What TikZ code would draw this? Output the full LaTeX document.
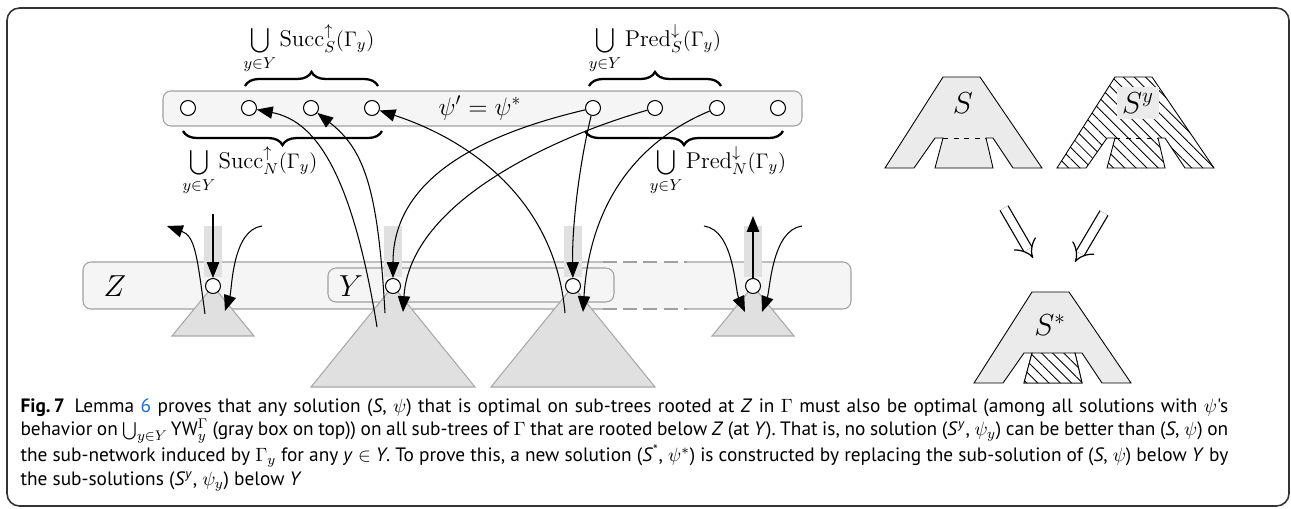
\documentclass[tikz,border=0pt]{standalone}
\usepackage{fontspec}
\newfontfamily\capfont{PT Sans}
\usepackage{xcolor}
\usepackage{tikz}
\usetikzlibrary{arrows.meta, positioning, decorations.pathreplacing, patterns.meta}
\definecolor{boxfill}{HTML}{F5F5F5}
\definecolor{boxline}{HTML}{A0A0A0}
\definecolor{treefill}{HTML}{E0E0E0}
\definecolor{treeline}{HTML}{A8A8A8}
\definecolor{shapefill}{HTML}{EBEBEB}
\definecolor{linkblue}{HTML}{1F6FD0}
\definecolor{frameline}{HTML}{333333}
\newcommand{\unionof}[1]{\displaystyle\bigcup_{y\in Y}#1}

\begin{document}
\begin{tikzpicture}[x=0.02cm, y=-0.02cm, line width=0.6pt,
      >={Triangle[length=9pt,width=7pt]},
      v/.style={circle, draw, fill=white, minimum size=0.3cm, inner sep=0pt},
      box/.style={draw=boxline, fill=boxfill, rounded corners=0.16cm},
      tree/.style={draw=treeline, fill=treefill},
      bar/.style={fill=treefill},
      br/.style={decorate, decoration={brace, amplitude=8pt}, line width=1.3pt},
      lbl/.style={font=\fontsize{13pt}{15pt}\selectfont, anchor=base},
      ashape/.style={draw, line width=0.5pt},
      hatch/.style={pattern={Lines[angle=-45, distance=4.5pt, line width=0.5pt]}},
      aoutline/.style={insert path={(885,168) -- (943,77) -- (980,77) -- (1042,168) -- (1013,168)
        -- (993,138) -- (986,138) -- (993,168) -- (935,168) -- (943,138) -- (935,138) -- (914,168) -- cycle}},
      amid/.style={insert path={(943,138) -- (986,138) -- (993,168) -- (935,168) -- cycle}},
      dbl/.style={double, double distance=4.5pt, line width=0.7pt, -{Implies}}]
    \useasboundingbox (0,0) rectangle (1291,508);
    \draw[frameline, line width=0.9pt, rounded corners=0.25cm] (7,8) rectangle (1289,506);

    % top row
    \draw[box] (163,91) rectangle (802,126);
    \node[font=\Large] (psi) at (480,108) {$\psi'=\psi^*$};
    \foreach \i/\x in {1/188,2/249,3/311,4/372,5/593,6/655,7/717,8/778}
      \node[v] (t\i) at (\x,108) {};
    \draw[br] (245,86) -- (378,86);
    \draw[br] (382,131) -- (183,131);
    \draw[br] (589,86) -- (721,86);
    \draw[br] (783,131) -- (585,131);
    \node[lbl] (succS) at (309,46) {$\unionof{\mathrm{Succ}^{\uparrow}_{S}(\Gamma_y)}$};
    \node[lbl] (succN) at (250,168) {$\unionof{\mathrm{Succ}^{\uparrow}_{N}(\Gamma_y)}$};
    \node[lbl] (predS) at (655,46) {$\unionof{\mathrm{Pred}^{\downarrow}_{S}(\Gamma_y)}$};
    \node[lbl] (predN) at (718,168) {$\unionof{\mathrm{Pred}^{\downarrow}_{N}(\Gamma_y)}$};

    % bottom row
    \fill[boxfill] (83,262) [rounded corners=0.16cm] rectangle (851,309);
    \draw[boxline, rounded corners=0.16cm] (603,262) -- (83,262) -- (83,309) -- (603,309);
    \draw[boxline, dash pattern=on 8pt off 3.5pt] (603,262) -- (687,262) (603,309) -- (687,309);
    \draw[boxline, rounded corners=0.16cm] (687,262) -- (851,262) -- (851,309) -- (687,309);
    \draw[box] (328,268) rectangle (614,302);
    \node[font=\LARGE] (zlbl) at (115,286) {$Z$};
    \node[font=\LARGE] (ylbl) at (351,286) {$Y$};
    \foreach \x in {213,753}
      \draw[tree] (\x,286) -- (\x-41,336) -- (\x+41,336) -- cycle;
    \foreach \x in {393,573}
      \draw[tree] (\x,286) -- (\x-82,387) -- (\x+82,387) -- cycle;
    \foreach \x in {213,393,573,753}
      \fill[bar] (\x-9,226) rectangle (\x+9,277);
    \node[v] (z) at (213,286) {};
    \node[v] (y1) at (393,286) {};
    \node[v] (y2) at (573,286) {};
    \node[v] (w) at (753,286) {};

    \coordinate (zTop) at (213,214);
    \coordinate (zLeftA) at (205,314);
    \coordinate (zLeftB) at (167,226);
    \coordinate (zRightA) at (262,226);
    \coordinate (zRightB) at (225,311);
    \coordinate (wTop) at (753,216);
    \coordinate (wLeftA) at (704,226);
    \coordinate (wLeftB) at (745,312);
    \coordinate (wRightA) at (802,226);
    \coordinate (wRightB) at (762,312);
    \coordinate (y1in) at (403,312);
    \coordinate (y1outA) at (377,327);
    \coordinate (y1outB) at (385,313);
    \coordinate (y2in) at (583,312);
    \coordinate (y2out) at (565,313);

    \draw[->] (zTop) -- (z);
    \draw[->] (zLeftA) .. controls (197,255) and (195,236) .. (zLeftB);
    \draw[->] (zRightA) .. controls (232,230) and (232,290) .. (zRightB);
    \draw[->] (w) -- (wTop);
    \draw[->] (wLeftA) .. controls (734,230) and (735,290) .. (wLeftB);
    \draw[->] (wRightA) .. controls (772,230) and (770,290) .. (wRightB);

    \draw[->] (t5) .. controls (500,130) and (393,170) .. (y1);
    \draw[->] (t6) .. controls (560,135) and (410,200) .. (y1in);
    \draw[->] (t5) .. controls (578,170) and (572,230) .. (y2);
    \draw[->] (t7) .. controls (640,140) and (590,200) .. (y2in);
    \draw[->] (y1outA) .. controls (350,160) and (310,120) .. (t2);
    \draw[->] (y1outB) .. controls (378,190) and (365,150) .. (t3);
    \draw[->] (y2out) .. controls (555,200) and (470,140) .. (t4);

    % solutions
    \draw[ashape, fill=shapefill, aoutline];
    \draw[ashape, dashed] (943,138) -- (986,138);
    \node[font=\LARGE] (sS) at (963,103) {$S$};
    \begin{scope}[shift={(172,0)}]
      \draw[ashape, hatch, aoutline];
      \draw[ashape, dashed] (943,138) -- (986,138);
    \end{scope}
    \node[fill=shapefill, font=\LARGE, inner sep=3pt] (sSy) at (1138,103) {$S^y$};
    \begin{scope}[shift={(89,215)}]
      \draw[ashape, fill=shapefill, aoutline];
      \fill[white, amid];
      \draw[ashape, hatch, amid];
    \end{scope}
    \node[font=\LARGE] (sStar) at (1050,325) {$S^*$};

    \coordinate (fromS) at (1004,208);
    \coordinate (toS) at (1033,258);
    \coordinate (fromSy) at (1104,213);
    \coordinate (toSy) at (1075,262);
    \draw[dbl] (fromS) -- (toS);
    \draw[dbl] (fromSy) -- (toSy);

    \node[anchor=north west, text width=24.16cm, inner sep=0pt, align=justify,
          font=\capfont\fontsize{11pt}{13.4pt}\selectfont] (cap) at (20,398)
      {\baselineskip=13.4pt {\bfseries Fig.\,7}\enskip Lemma \textcolor{linkblue}{6} proves that any solution (\textit{S}, $\psi$) that is optimal on sub-trees rooted at \textit{Z} in $\Gamma$ must also be optimal (among all solutions with $\psi$'s\linebreak
       behavior on $\bigcup_{y\in Y}$\,YW$^{\Gamma}_{y}$ (gray box on top)) on all sub-trees of $\Gamma$ that are rooted below \textit{Z} (at \textit{Y}). That is, no solution (\textit{S}\textsuperscript{\textit{y}}, $\psi_y$) can be better than (\textit{S}, $\psi$) on\linebreak
       the sub-network induced by $\Gamma_y$ for any \textit{y} $\in$ \textit{Y}. To prove this, a new solution (\textit{S}\textsuperscript{*}, $\psi^*$) is constructed by replacing the sub-solution of (\textit{S}, $\psi$) below \textit{Y} by\linebreak
       the sub-solutions (\textit{S}\textsuperscript{\textit{y}}, $\psi_y$) below \textit{Y}\par};
  \end{tikzpicture}
\end{document}
